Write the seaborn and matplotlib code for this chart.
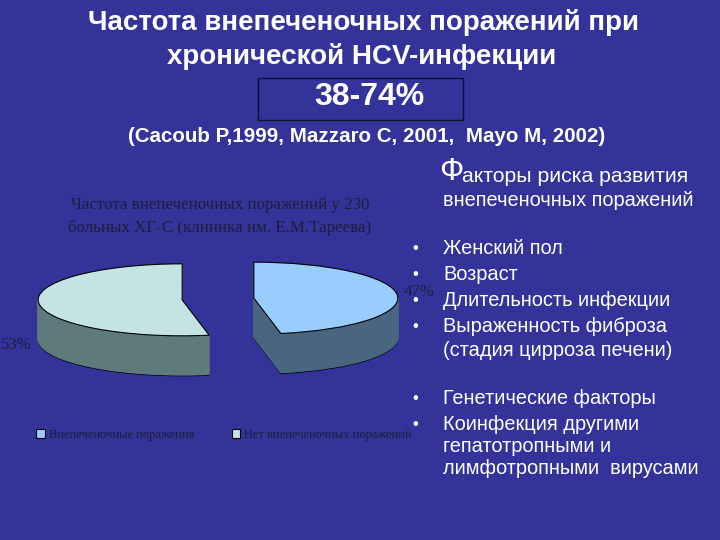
import numpy as np
import matplotlib
matplotlib.use("Agg")
import matplotlib.pyplot as plt
from matplotlib.patches import Rectangle
import seaborn as sns

# данные диаграммы
categories = ["Внепеченочные поражения", "Нет внепеченочных поражений"]
shares = [47, 53]
share_labels = ["47%", "53%"]
top_colors = ["#99ccff", "#c4e4e4"]
side_colors = ["#4a6580", "#5e7a7a"]

title_lines = ["Частота внепеченочных поражений при", "хронической HCV-инфекции"]
range_text = "38-74%"
cite_text = "(Cacoub P,1999, Mazzaro C, 2001,  Mayo M, 2002)"
chart_title = ["Частота внепеченочных поражений у 230",
               "больных ХГ-С (клиника им. Е.М.Тареева)"]
risk_head = ["акторы риска развития", "внепеченочных поражений"]
risk_items = [("Женский пол", True), ("Возраст", True),
              ("Длительность инфекции", True), ("Выраженность фиброза", True),
              ("(стадия цирроза печени)", False),
              ("Генетические факторы", True), ("Коинфекция другими", True),
              ("гепатотропными и", False), ("лимфотропными  вирусами", False)]

bg_color = "#333399"
dark = "#1e1e3c"

sns.set_style("white")
plt.rcParams['font.family'] = ['Liberation Sans', 'DejaVu Sans']

fig = plt.figure(figsize=(7.2, 5.4), dpi=100, facecolor=bg_color)

# фон в пиксельных координатах
bg = fig.add_axes([0, 0, 1, 1])
bg.set_xlim(0, 720)
bg.set_ylim(540, 0)
bg.axis('off')

bg.text(364, 22, title_lines[0], ha='center', va='center', color='white',
        fontsize=20, fontweight='bold')
bg.text(362, 57, title_lines[1], ha='center', va='center', color='white',
        fontsize=20, fontweight='bold')
bg.add_patch(Rectangle((258, 78), 205, 42, fill=False, edgecolor='#101030', lw=1))
bg.text(369, 97, range_text, ha='center', va='center', color='white',
        fontsize=23, fontweight='bold')
bg.text(367, 137, cite_text, ha='center', va='center', color='white',
        fontsize=14.8, fontweight='bold')

# заголовок диаграммы
serif = ['Liberation Serif', 'DejaVu Serif']
bg.text(220, 205, chart_title[0], ha='center', va='center', color=dark,
        fontsize=12.2, family=serif)
bg.text(220, 228, chart_title[1], ha='center', va='center', color=dark,
        fontsize=12.2, family=serif)
bg.text(16, 345, share_labels[1], ha='center', va='center', color=dark,
        fontsize=12, family=serif)
bg.text(419, 292, share_labels[0], ha='center', va='center', color=dark,
        fontsize=12, family=serif, zorder=0)

# факторы риска
bg.text(439, 172, "Ф", ha='left', va='center', color='white', fontsize=23)
bg.text(462, 177, risk_head[0], ha='left', va='center', color='white', fontsize=15.3)
bg.text(443, 200, risk_head[1], ha='left', va='center', color='white', fontsize=14.4)
item_y = [248, 274, 300, 326, 350, 398, 424, 447, 469]
for (txt, bullet), y in zip(risk_items, item_y):
    if bullet:
        bg.text(415, y, "•", ha='center', va='center', color='white', fontsize=12)
    bg.text(443, y, txt, ha='left', va='center', color='white', fontsize=14.4)

# объемная круговая диаграмма
ax = fig.add_axes([0.0428, 0.2863, 0.52, 0.2467])
ax.patch.set_alpha(0)
explode = [0.25, 0.25]
depth = 1.11
offsets = np.linspace(-depth, 0, 40)[:-1]
for i, off in enumerate(offsets):
    if i == 0:
        wp = dict(edgecolor='black', linewidth=0.8)
    else:
        wp = dict(linewidth=1.2)
    wedges, _ = ax.pie(shares, explode=explode, colors=side_colors, startangle=90,
                       counterclock=False, center=(0, off), wedgeprops=wp)
    if i > 0:
        for w, c in zip(wedges, side_colors):
            w.set_edgecolor(c)
top, _ = ax.pie(shares, explode=explode, colors=top_colors, startangle=90,
                counterclock=False, center=(0, 0),
                wedgeprops=dict(edgecolor='black', linewidth=0.8))
ax.set_aspect('auto')
ax.set_xlim(-1.3, 1.3)
ax.set_ylim(-2.4, 1.3)
ax.axis('off')

leg = fig.legend(top, categories, loc='center', bbox_to_anchor=(224 / 720, 1 - 435 / 540),
                 ncol=2, frameon=False, handlelength=0.7, handleheight=0.7,
                 handletextpad=0.3, columnspacing=3.0,
                 prop=dict(family=serif, size=9))
for t in leg.get_texts():
    t.set_color(dark)

fig.savefig("out.png", dpi=100, facecolor=bg_color)
